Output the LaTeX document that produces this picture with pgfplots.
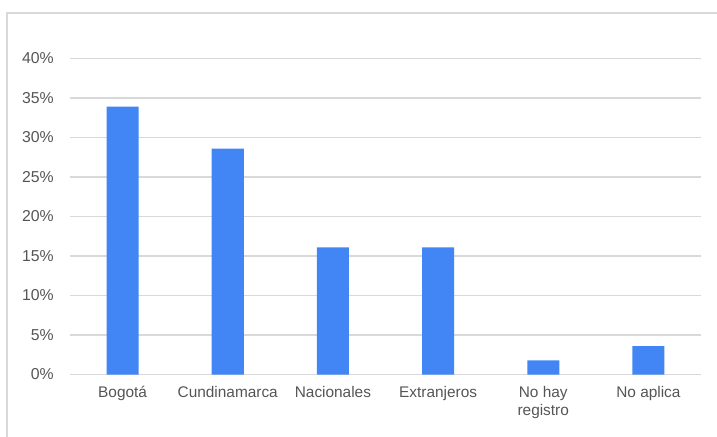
\documentclass[border=0pt]{standalone}
\usepackage{fontspec}
\setmainfont{Liberation Sans}
\usepackage{pgfplots}
\pgfplotsset{compat=1.18}
\definecolor{barblue}{HTML}{4285F4}
\definecolor{gridgray}{HTML}{D9D9D9}
\definecolor{txtgray}{HTML}{555555}
\begin{document}
\begin{tikzpicture}[x=1bp,y=1bp]
\path[use as bounding box] (-70bp,-62.5bp) rectangle (647bp,374.5bp);
\draw[gridgray, line width=1.5bp] (-63bp,-63bp) -- (-63bp,361.5bp) -- (648bp,361.5bp);
\begin{axis}[
  scale only axis,
  width=631bp, height=316bp,
  xmin=-0.5, xmax=5.5,
  ymin=0, ymax=40,
  ytick={0,5,...,40},
  yticklabel={\pgfmathprintnumber{\tick}\%},
  xtick={0,1,2,3,4,5},
  xticklabels={\strut Bogotá,\strut Cundinamarca,\strut Nacionales,\strut Extranjeros,\strut No hay\\registro,\strut No aplica},
  /pgf/number format/assume math mode=true,
  axis line style={draw=none},
  major tick length=0pt,
  ymajorgrids,
  grid style={gridgray, line width=1.2bp},
  yticklabel style={font=\fontsize{15.8bp}{18bp}\selectfont, text=txtgray, inner sep=0pt, anchor=east, xshift=-16bp},
  xticklabel style={font=\fontsize{15.4bp}{17.5bp}\selectfont, text=txtgray, inner sep=0pt, anchor=north, yshift=-11bp, align=center},
  ybar, bar width=32bp,
]
\addplot[fill=barblue, draw=none] coordinates {(0,33.9) (1,28.6) (2,16.1) (3,16.1) (4,1.8) (5,3.6)};
\end{axis}
\end{tikzpicture}
\end{document}
